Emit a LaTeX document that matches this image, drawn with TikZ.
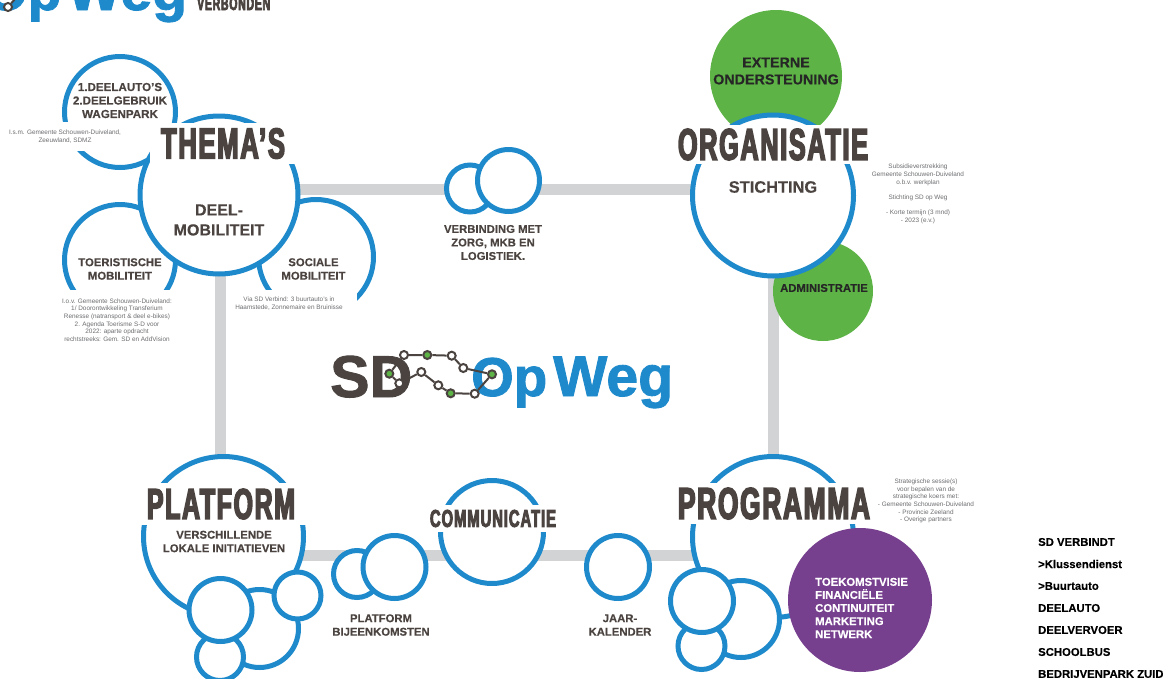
\documentclass[tikz,border=0pt]{standalone}
\usepackage{fontspec}
\usepackage{graphicx}
\setmainfont{Liberation Sans}
\newfontfamily\titlefont[UprightFont=* Bold,FakeBold=3.5,FakeStretch=0.6,LetterSpace=4]{Liberation Sans}
\newfontfamily\logofont[UprightFont=* Bold,FakeBold=1.5]{Liberation Sans}
\newfontfamily\labelfont[UprightFont=* Bold,FakeBold=0.3]{Liberation Sans}
\definecolor{opblue}{HTML}{1E8ACB}
\definecolor{opgreen}{HTML}{5DB346}
\definecolor{oppurple}{HTML}{77408F}
\definecolor{opdark}{HTML}{4A4340}
\definecolor{opgrey}{HTML}{D1D3D4}
\definecolor{optext}{HTML}{6D6E71}
% bigtitle{breedte}{hoogte}{tekst}
\newcommand{\bigtitle}[3]{\resizebox{#1}{#2}{\titlefont #3}}
\newcommand{\logotext}[2]{\resizebox{#1}{!}{\logofont #2}}
\tikzset{
  bubble/.style={circle,draw=opblue,line width=5pt,fill=white,inner sep=0pt},
  blob/.style={circle,fill=#1,inner sep=0pt},
  route/.style={line width=11pt,opgrey},
  titlebox/.style={fill=white,inner sep=0pt,text=opdark},
  whitebox/.style={fill=white,inner sep=0pt,text=optext,align=center,font=\fontsize{6.4}{7.7}\selectfont},
  lbl/.style={inner sep=0pt,align=center,text=opdark,font=\fontsize{11.3}{13.5}\labelfont},
  wit/.style={circle,draw=opdark,line width=2pt,fill=white,inner sep=0pt,minimum size=8pt},
  groen/.style={circle,draw=opdark,line width=2pt,fill=opgreen,inner sep=0pt,minimum size=8pt},
  lijn/.style={opdark,line width=2pt},
  lijst/.style={inner sep=0pt,anchor=west,text=black,font=\fontsize{11.3}{13}\labelfont}
}
\begin{document}
\begin{tikzpicture}[x=1pt,y=-1pt]
  \clip (0,0) rectangle (1163,678);

  % logo bovenaan
  \node[inner sep=0pt,anchor=base west,text=opblue] (topop) at (-15,10) {\logotext{76pt}{Op}};
  \node[inner sep=0pt,anchor=base west,text=opblue] (topweg) at (67,10) {\logotext{120pt}{Weg}};
  \node[inner sep=0pt,anchor=base west,text=opdark] (topverb) at (197,10) {\bigtitle{73pt}{13pt}{VERBONDEN}};
  \node[wit] (topstop) at (8,7) {};
  \coordinate (topend) at (15,-1);
  \draw[lijn] (topstop) -- (topend);

  % grijze route
  \coordinate (hoekA) at (220.5,189.5);
  \coordinate (hoekB) at (773.5,189.5);
  \coordinate (hoekC) at (773.5,555.5);
  \coordinate (hoekD) at (220.5,555.5);
  \draw[route] (hoekA) -- (hoekB) -- (hoekC) -- (hoekD) -- cycle;

  % thema's
  \node[bubble,minimum size=111pt] (deelauto) at (120,112) {};
  \node[bubble,minimum size=111pt] (toeristisch) at (120,260) {};
  \node[bubble,minimum size=115pt] (sociaal) at (316,257) {};
  \node[whitebox,minimum width=130pt,minimum height=29pt] (ism) at (65,136.5)
    {I.s.m. Gemeente Schouwen-Duiveland,\\Zeeuwland, SDMZ};
  \node[bubble,minimum size=158pt] (thema) at (219,195) {};
  \node[titlebox,minimum width=147pt,minimum height=41pt] (thematitel) at (223,143.5)
    {\bigtitle{124pt}{30pt}{THEMA’S}};
  \node[lbl,font=\fontsize{11.6}{13.5}\labelfont] (deelautotxt) at (120,100.5) {1.DEELAUTO’S\\2.DEELGEBRUIK\\WAGENPARK};
  \node[lbl,font=\fontsize{16}{20}\labelfont] (deeltxt) at (219,220) {DEEL-\\MOBILITEIT};
  \node[lbl] (toertxt) at (120,269) {TOERISTISCHE\\MOBILITEIT};
  \node[lbl] (socialetxt) at (313.5,269) {SOCIALE\\MOBILITEIT};
  \node[whitebox,minimum width=135pt,minimum height=60pt] (toerbox) at (117,320)
    {I.o.v. Gemeente Schouwen-Duiveland:\\1/ Doorontwikkeling Transferium\\Renesse (natransport \& deel e-bikes)\\2. Agenda Toerisme S-D voor\\2022: aparte opdracht\\rechtstreeks: Gem. SD en AddVision};
  \node[whitebox,minimum width=122pt,minimum height=30pt] (soccover) at (296,305) {};
  \node[whitebox] (socbox) at (289,303.3)
    {Via SD Verbind: 3 buurtauto’s in\\Haamstede, Zonnemaire en Bruinisse};

  % verbinding
  \node[bubble,minimum size=47pt] (verbklein) at (470,188.5) {};
  \node[bubble,minimum size=62pt] (verbgroot) at (508.5,180.5) {};
  \node[lbl] (verbtxt) at (493,242.5) {VERBINDING MET\\ZORG, MKB EN\\LOGISTIEK.};

  % organisatie
  \node[blob=opgreen,minimum size=132pt] (extern) at (776,76) {};
  \node[blob=opgreen,minimum size=100pt] (admin) at (823,291) {};
  \node[bubble,minimum size=161pt] (organisatie) at (773,195.5) {};
  \node[titlebox,minimum width=195pt,minimum height=39pt] (orgtitel) at (773,144.5)
    {\bigtitle{190pt}{31pt}{ORGANISATIE}};
  \node[lbl,text=black!85,font=\fontsize{14.3}{17}\labelfont] (externtxt) at (776,71) {EXTERNE\\ONDERSTEUNING};
  \node[lbl,text=black!85,font=\fontsize{11.3}{13}\labelfont] (admintxt) at (824,288) {ADMINISTRATIE};
  \node[lbl,font=\fontsize{16.4}{18}\labelfont] (stichtxt) at (773,187) {STICHTING};
  \node[whitebox] (orgbox) at (918,194)
    {Subsidieverstrekking\\Gemeente Schouwen-Duiveland\\o.b.v. werkplan\\[7.7pt]Stichting SD op Weg\\[7.7pt]- Korte termijn (3 mnd)\\- 2023 (e.v.)};

  % platform
  \node[bubble,minimum size=160pt] (platform) at (223.5,536.5) {};
  \node[titlebox,minimum width=170pt,minimum height=42pt] (plattitel) at (221,504)
    {\bigtitle{148pt}{30pt}{PLATFORM}};
  \node[lbl] (plattxt) at (224,541.5) {VERSCHILLENDE\\LOKALE INITIATIEVEN};
  \node[bubble,minimum size=78pt] (platachter) at (259.5,628.5) {};
  \node[bubble,minimum size=47pt] (platonder) at (220,657) {};
  \node[bubble,minimum size=63pt] (platgroot) at (220.5,610) {};
  \node[bubble,minimum size=47pt] (platrechts) at (297.5,595.5) {};

  % bijeenkomsten, communicatie, kalender
  \node[bubble,minimum size=47pt] (bijklein) at (357,574) {};
  \node[bubble,minimum size=63pt] (bijgroot) at (394.5,567) {};
  \node[lbl] (bijtxt) at (381,625) {PLATFORM\\BIJEENKOMSTEN};
  \node[bubble,minimum size=103pt] (communicatie) at (492,532) {};
  \node[titlebox,minimum width=127pt,minimum height=27pt] (commtitel) at (493,518.5)
    {\bigtitle{126pt}{17pt}{COMMUNICATIE}};
  \node[bubble,minimum size=63pt] (kalender) at (618,567) {};
  \node[lbl] (kaltxt) at (620,625) {JAAR-\\KALENDER};

  % programma
  \node[bubble,minimum size=161pt] (programma) at (773,537) {};
  \node[titlebox,minimum width=194pt,minimum height=41pt] (progtitel) at (774,503.5)
    {\bigtitle{192pt}{31pt}{PROGRAMMA}};
  \node[whitebox] (progbox) at (926,501)
    {Strategische sessie(s)\\voor bepalen van de\\strategische koers met:\\- Gemeente Schouwen-Duiveland\\- Provincie Zeeland\\- Overige partners};
  \node[bubble,minimum size=77pt] (progachter) at (741,619) {};
  \node[bubble,minimum size=47pt] (progonder) at (701.5,646) {};
  \node[bubble,minimum size=63pt] (proggroot) at (702,601) {};
  \node[blob=oppurple,minimum size=144pt] (toekomst) at (860,600) {};
  \node[lbl,text=white,align=left,anchor=west,font=\fontsize{11.3}{13.1}\labelfont] (toekomsttxt) at (815,608)
    {TOEKOMSTVISIE\\FINANCIËLE\\CONTINUITEIT\\MARKETING\\NETWERK};

  % logo midden
  \node[inner sep=0pt,anchor=base west,text=opdark] (logosd) at (330,397) {\logotext{82pt}{SD}};
  \node[inner sep=0pt,anchor=base west,text=opblue] (logoop) at (471,396) {\logotext{76pt}{Op}};
  \node[inner sep=0pt,anchor=base west,text=opblue] (logoweg) at (553,396) {\logotext{120pt}{Weg}};
  \node[wit] (s1) at (404,355) {};
  \node[groen] (s2) at (427.3,355) {};
  \node[wit] (s3) at (451.7,355.7) {};
  \node[wit] (s4) at (463.3,368) {};
  \node[groen] (s5) at (492,374.3) {};
  \node[wit] (s6) at (474.7,393.7) {};
  \node[groen] (s7) at (450.7,393.3) {};
  \node[wit] (s8) at (438.3,385.3) {};
  \node[wit] (s9) at (421.3,372) {};
  \node[wit] (s10) at (399.3,383.3) {};
  \node[groen] (s11) at (389.3,373.7) {};
  \draw[lijn] (s1) -- (s2) -- (s3) -- (s4) -- (s5) -- (s6) -- (s7) -- (s8) -- (s9) -- (s10) -- (s11) -- (s1);

  % lijst rechts
  \foreach \txt [count=\i] in {SD VERBINDT,>Klussendienst,>Buurtauto,DEELAUTO,DEELVERVOER,SCHOOLBUS,BEDRIJVENPARK ZUID}
    \node[lijst] (item\i) at (1038,{520+22*\i}) {\txt};
\end{tikzpicture}
\end{document}
